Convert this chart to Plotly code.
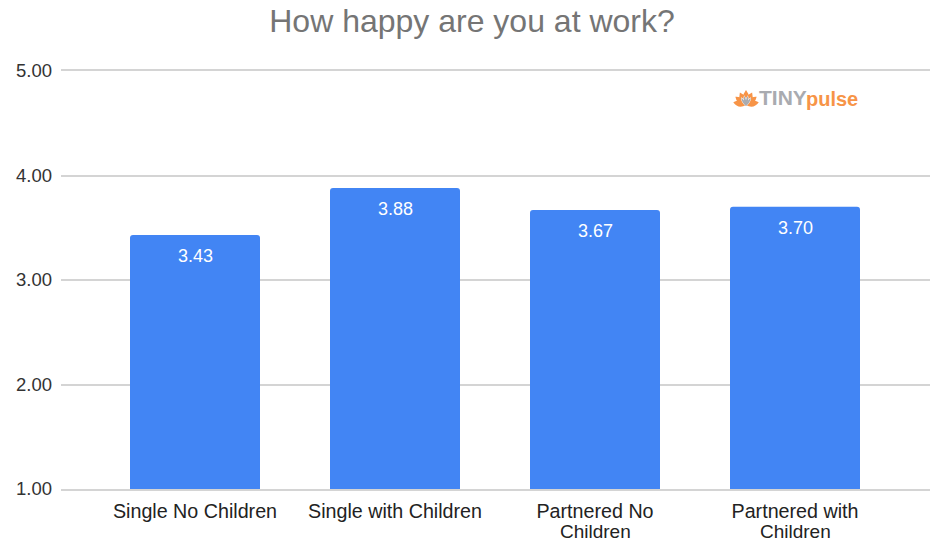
import math
import plotly.graph_objects as go

categories = ["Single No Children", "Single with Children", "Partnered No Children", "Partnered with Children"]
tick_labels = ["Single No Children", "Single with Children", "Partnered No", "Partnered with"]
second_lines = ["", "", "Children", "Children"]
values = [3.43, 3.88, 3.67, 3.70]
y_ticks = [1, 2, 3, 4, 5]

FONT = "Liberation Sans, Arial, sans-serif"
W, H = 932, 542
L, R, T, B = 61, 930, 71, 489


def lx(x):
    return (x - L) / (R - L)


def ly(y):
    return (B - y) / (B - T)


fig = go.Figure(go.Bar(x=categories, y=values, marker=dict(color="#4285f4", line=dict(width=0)),
                       width=0.65, hoverinfo="x+y"))

annotations = [dict(x=c, y=v, text=f"{v:.2f}", showarrow=False, yshift=-21, xref="x", yref="y",
                    font=dict(family=FONT, size=18, color="#ffffff")) for c, v in zip(categories, values)]
annotations += [dict(x=c, xref="x", yref="paper", y=ly(531.5), text=s, showarrow=False, yanchor="middle",
                     font=dict(family=FONT, size=19, color="#222222"))
                for c, s in zip(categories, second_lines) if s]
annotations += [
    dict(xref="paper", yref="paper", x=lx(757), y=ly(98), xanchor="left", yanchor="middle", showarrow=False,
         text="<b>TINY</b>", font=dict(family=FONT, size=21, color="#a9abb0")),
    dict(xref="paper", yref="paper", x=lx(804), y=ly(98.5), xanchor="left", yanchor="middle", showarrow=False,
         text="<b>pulse</b>", font=dict(family=FONT, size=20, color="#f79447")),
]

fig.update_layout(
    width=W, height=H, autosize=False, bargap=0.35,
    margin=dict(l=L, r=W - R, t=T, b=H - B, pad=0),
    paper_bgcolor="#ffffff", plot_bgcolor="#ffffff", showlegend=False,
    title=dict(text="How happy are you at work?", x=472 / W, xanchor="center", y=1 - 21 / H, yanchor="middle",
               font=dict(family=FONT, size=32, color="#757575")),
    font=dict(family=FONT, size=18, color="#222222"),
    annotations=annotations,
    xaxis=dict(type="category", categoryorder="array", categoryarray=categories,
               tickmode="array", tickvals=categories, ticktext=tick_labels,
               range=[(L - 195) / 200, (R - 195) / 200], showgrid=False, showline=True, mirror=True,
               linecolor="#d4d4d4", linewidth=1.5, ticks="", tickfont=dict(family=FONT, size=19.7, color="#222222"),
               zeroline=False, ticklabelstandoff=4),
    yaxis=dict(range=[1, 5], tickmode="array", tickvals=y_ticks, tickformat=".2f", showgrid=True,
               gridcolor="#d4d4d4", gridwidth=1.5, zeroline=False, ticks="", showline=False,
               tickfont=dict(family=FONT, size=18.5, color="#333333"), ticklabelstandoff=8),
    barcornerradius=3,
)


# logo lotus mark: orange outer petals with grey inner petals
def petal(cx, cy, angle, length, half_width, colour):
    a = math.radians(angle)
    ux, uy = math.sin(a), -math.cos(a)
    nx, ny = -uy, ux
    tip = (cx + ux * length, cy + uy * length)
    m1 = (cx + ux * length * 0.5 + nx * half_width, cy + uy * length * 0.5 + ny * half_width)
    m2 = (cx + ux * length * 0.5 - nx * half_width, cy + uy * length * 0.5 - ny * half_width)
    f = lambda p: f"{lx(p[0]):.5f} {ly(p[1]):.5f}"
    path = f"M {f((cx, cy))} Q {f(m1)} {f(tip)} Q {f(m2)} {f((cx, cy))} Z"
    fig.add_shape(type="path", xref="paper", yref="paper", path=path, fillcolor=colour,
                  line=dict(width=0), layer="above")


for ang, length in [(-78, 13), (-52, 13.5), (-26, 14), (0, 15), (26, 14), (52, 13.5), (78, 13)]:
    petal(746, 105, ang, length, 6, "#f79447")
for ang, length in [(-30, 10), (-10, 11), (10, 11), (30, 10)]:
    petal(746, 106, ang, length, 3, "#ffffff")
for ang, length in [(-30, 9.5), (-10, 10.5), (10, 10.5), (30, 9.5)]:
    petal(746, 106, ang, length, 2.2, "#a9abb0")

fig.write_html("out.html", post_script="document.body.style.margin='0';",
               config=dict(displayModeBar=False))
